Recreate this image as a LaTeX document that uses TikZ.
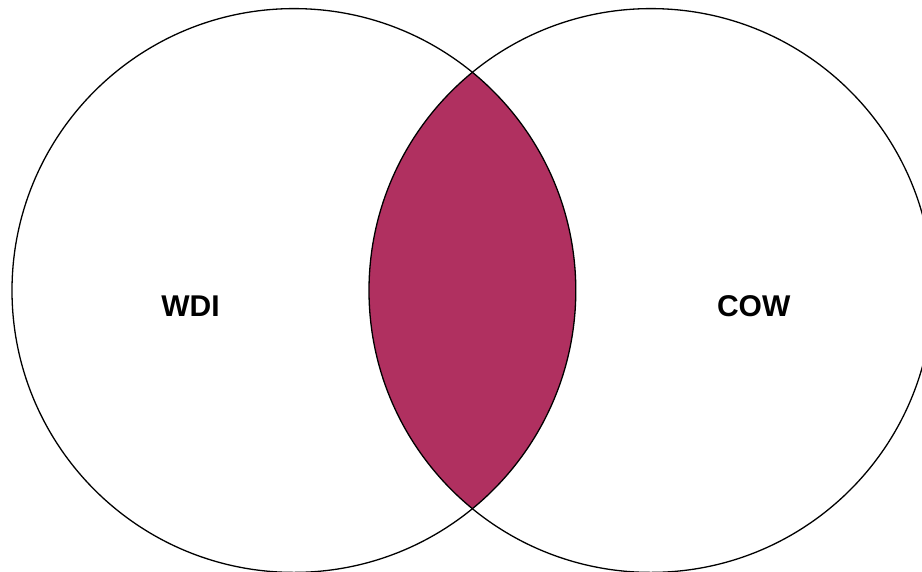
\documentclass[tikz,border=0pt]{standalone}
\usepackage{fontspec}
\setmainfont{Liberation Sans}
\usetikzlibrary{calc}
\definecolor{LensClr}{rgb}{0.690,0.188,0.376}

\begin{document}
\begin{tikzpicture}[x=1pt,y=-1pt]
\tikzset{rim/.style={line width=1.3pt,color=black},
  setname/.style={font=\bfseries\fontsize{30}{36}\selectfont,inner sep=0pt}}
\clip (0,0) rectangle (922,571);
\useasboundingbox (0,0) rectangle (922,571);

\coordinate (O1) at (293.9,290.5);
\coordinate (O2) at (650.9,290.5);
\def\rad{281.9}

% common part
\begin{scope}
\clip (O1) circle (\rad);
\fill[LensClr] (O2) circle (\rad);
\end{scope}

\draw[rim] (O1) circle (\rad);
\draw[rim] (O2) circle (\rad);

\node[setname] (wdi) at (190.5,306.3) {WDI};
\node[setname] (cow) at (753.7,306.3) {COW};

\end{tikzpicture}
\end{document}
